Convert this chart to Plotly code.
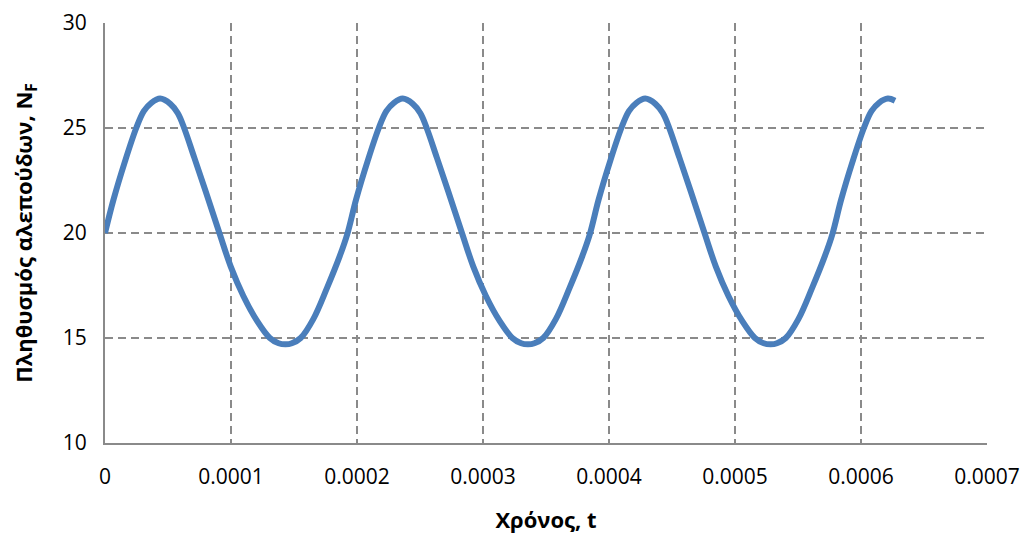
import plotly.graph_objects as go

# Time in microseconds (converted to seconds below) and fox population N_F
t_us = [0, 6.8, 15.8, 24.8, 30.8, 36.8, 43.8,
        51.8, 57.8, 62.8, 70.8, 79.8, 90.8, 99.8, 109.8, 120.8, 130.8, 137.8, 143.3,
        148.3, 155.3, 165.3, 176.3, 186.3, 192.3, 199.3, 208.3, 217.3, 223.3, 229.3, 236.3,
        244.3, 250.3, 255.3, 263.3, 272.3, 283.3, 292.3, 302.3, 313.3, 323.3, 330.3, 335.8,
        340.8, 347.8, 357.8, 368.8, 378.8, 384.8, 391.8, 400.8, 409.8, 415.8, 421.8, 428.8,
        436.8, 442.8, 447.8, 455.8, 464.8, 475.8, 484.8, 494.8, 505.8, 515.8, 522.8, 528.3,
        533.3, 540.3, 550.3, 561.3, 571.3, 577.3, 584.3, 593.3, 602.3, 608.3, 614.3, 621.3, 627.0]
n_fox = [20.0, 21.6, 23.4, 25.0, 25.8, 26.2, 26.4,
         26.15, 25.7, 25.0, 23.6, 22.0, 20.0, 18.4, 17.0, 15.8, 15.0, 14.75, 14.7,
         14.75, 15.0, 15.9, 17.4, 18.9, 19.95, 21.6, 23.4, 25.0, 25.8, 26.2, 26.4,
         26.15, 25.7, 25.0, 23.6, 22.0, 20.0, 18.4, 17.0, 15.8, 15.0, 14.75, 14.7,
         14.75, 15.0, 15.9, 17.4, 18.9, 19.95, 21.6, 23.4, 25.0, 25.8, 26.2, 26.4,
         26.15, 25.7, 25.0, 23.6, 22.0, 20.0, 18.4, 17.0, 15.8, 15.0, 14.75, 14.7,
         14.75, 15.0, 15.9, 17.4, 18.9, 19.95, 21.6, 23.4, 25.0, 25.8, 26.2, 26.4, 26.3]

x_ticks = [0, 0.0001, 0.0002, 0.0003, 0.0004, 0.0005, 0.0006, 0.0007]
x_tick_labels = ["0", "0.0001", "0.0002", "0.0003", "0.0004", "0.0005", "0.0006", "0.0007"]
y_ticks = [10, 15, 20, 25, 30]

t_sec = [v * 1e-6 for v in t_us]

FONT = "Open Sans, Noto Sans, sans-serif"
GRID = "#8A8A8A"

fig = go.Figure()
fig.add_trace(go.Scatter(
    x=t_sec, y=n_fox, mode="lines",
    line=dict(color="#4A7EBB", width=6, shape="spline", smoothing=1.0),
    showlegend=False, hoverinfo="skip",
))

fig.update_layout(
    width=1030, height=535,
    margin=dict(l=97, r=51, t=15, b=100),
    paper_bgcolor="white", plot_bgcolor="white",
    font=dict(family=FONT, size=21, color="#000000"),
    xaxis=dict(
        range=[0, 0.0007], tickvals=x_ticks, ticktext=x_tick_labels,
        showgrid=True, gridcolor=GRID, gridwidth=2, griddash="8px,5px",
        showline=True, linecolor=GRID, linewidth=2,
        zeroline=False, ticks="", ticklabelstandoff=14, automargin=False,
        title=dict(text="<b>Χρόνος, t</b>", font=dict(family=FONT, size=22), standoff=23),
    ),
    yaxis=dict(
        range=[10, 30], tickvals=y_ticks,
        showgrid=True, gridcolor=GRID, gridwidth=2, griddash="8px,5px",
        showline=True, linecolor=GRID, linewidth=2,
        zeroline=False, ticks="", ticklabelstandoff=12, automargin=False,
        title=dict(text="<b>Πληθυσμός αλεπούδων, N<sub>F</sub></b>", font=dict(family=FONT, size=22), standoff=24),
    ),
)

fig.write_html("out.html")
